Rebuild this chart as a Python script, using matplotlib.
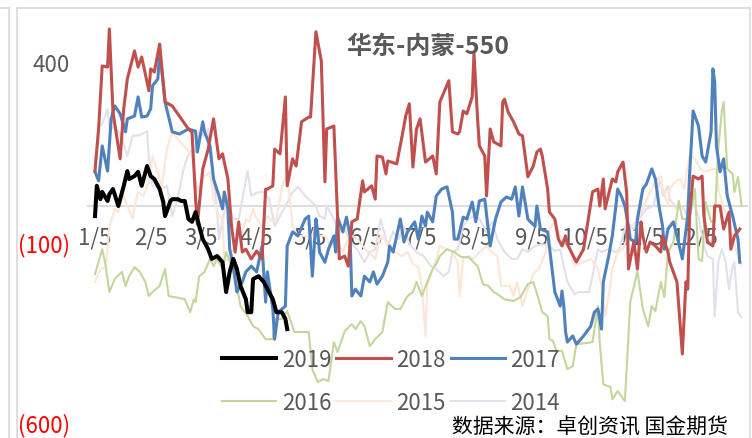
import matplotlib
matplotlib.use("Agg")
import matplotlib.pyplot as plt
from matplotlib.lines import Line2D

plt.rcParams['font.family'] = ['Noto Sans CJK SC', 'DejaVu Sans']

# day of year / spread value (yuan/t)
d2019 = [5, 6, 8, 9, 12, 13, 15, 18, 21, 23, 24, 27, 29, 31, 34, 36, 38, 41, 43, 44, 47, 48, 51, 53, 55,
         57, 59, 61, 63, 65, 68, 70, 73, 76, 78, 80, 82, 84, 86, 89, 90, 92, 93, 96, 99, 101, 104, 106,
         109, 111, 112]
v2019 = [-28, 56, 19, 39, 14, 33, 47, 0, 56, 97, 75, 83, 95, 56, 111, 83, 75, 47, 11, -28, 14, 19, 19, 14, 14,
         -36, -44, -17, -56, -92, -120, -147, -139, -156, -239, -183, -147, -175, -222, -259, -295, -295, -203,
         -195, -211, -231, -259, -295, -295, -314, -342]

d2018 = [5, 7, 9, 12, 13, 15, 19, 21, 23, 27, 29, 31, 35, 36, 38, 41, 44, 48, 57, 59, 61, 62, 65, 68, 71,
         74, 76, 79, 81, 83, 85, 87, 89, 92, 95, 98, 100, 101, 104, 105, 108, 111, 112, 115, 117, 120, 124,
         125, 128, 131, 133, 134, 138, 141, 144, 146, 148, 151, 154, 155, 159, 161, 162, 165, 167, 168, 173,
         176, 178, 180, 182, 184, 186, 189, 193, 195, 197, 202, 204, 207, 208, 210, 212, 215, 216, 218, 219,
         222, 223, 225, 227, 231, 232, 233, 235, 238, 241, 243, 246, 249, 251, 253, 254, 257, 258, 261, 263,
         265, 267, 268, 273, 277, 282, 285, 286, 288, 289, 293, 295, 296, 299, 301, 302, 305, 307, 309, 310,
         312, 314, 317, 320, 321, 324, 325, 329, 332, 334, 335, 336, 338, 341, 343, 344, 346, 349, 350, 353,
         355, 358, 359, 361, 364]
v2018 = [97, 214, 389, 386, 492, 261, 131, 270, 353, 431, 386, 414, 320, 381, 372, 450, 289, 278, 214, 205,
         19, -50, 103, 158, 242, 131, 145, 75, -56, -128, -44, -128, -120, -147, -125, -147, 47, 47, 56, 158,
         145, 303, 56, 131, 111, 234, 247, 247, 484, 403, 67, 214, 222, -147, -139, -167, -44, -36, 70, 39,
         56, 19, 139, 136, 89, 125, 117, 195, 250, 284, 108, 214, 242, 122, 139, 89, 289, 348, 206, 200, 206,
         264, 256, 303, 423, 242, 167, 139, 28, 214, 178, 167, 289, 297, 261, 234, 200, 195, 81, 111, 150,
         158, 139, 47, -17, -36, -92, -111, -83, -106, -156, -120, 39, 47, 0, 75, -8, 75, 67, 95, 122, 39,
         -175, -100, -175, -44, -83, -128, -100, -111, -128, -83, -128, -156, -211, -411, -211, -231, -28, 83,
         75, 83, -28, -100, -111, 0, 0, -64, -17, -120, -83, -64]

d2017 = [5, 7, 9, 12, 14, 16, 19, 22, 23, 27, 29, 31, 34, 36, 37, 40, 41, 44, 48, 52, 57, 61, 62, 65, 66,
         69, 71, 74, 76, 77, 79, 80, 82, 84, 87, 89, 92, 95, 98, 100, 101, 104, 105, 107, 111, 112, 115, 118,
         122, 124, 126, 128, 129, 130, 133, 135, 138, 139, 140, 143, 145, 147, 148, 150, 153, 155, 158, 160,
         162, 165, 168, 169, 171, 175, 177, 179, 183, 185, 187, 189, 190, 193, 195, 198, 201, 204, 205, 207,
         210, 212, 215, 217, 219, 222, 225, 228, 231, 234, 237, 239, 241, 243, 246, 247, 250, 251, 253, 257,
         259, 261, 264, 265, 266, 267, 268, 271, 273, 277, 281, 283, 285, 287, 288, 291, 293, 295, 296, 298,
         300, 302, 303, 306, 307, 310, 312, 315, 317, 319, 321, 322, 324, 327, 329, 332, 335, 336, 338, 341,
         343, 345, 348, 349, 350, 351, 353, 355, 357, 360, 363, 364]
v2017 = [95, 70, 167, 97, 242, 278, 256, 206, 242, 250, 303, 247, 250, 270, 334, 353, 431, 289, 206, 200,
         214, 208, 150, 234, 206, 167, 75, 28, -8, 39, -8, -120, -167, -239, -211, -183, -167, -183, -111,
         -267, -183, -286, -370, -295, -278, -111, -72, -83, -36, -28, -195, -36, -72, -128, -156, -120, -83,
         -128, -31, -72, -31, -83, -250, -231, -250, -195, -211, -183, -217, -195, -156, -111, -128, -36, -100,
         -72, -44, -92, -28, -56, -17, -44, 28, 47, 53, -17, -92, -92, -31, -36, 11, -44, 14, 19, -111, -36,
         11, 25, 19, 53, -28, 53, -36, -42, -56, 0, -64, -72, -156, -239, -278, -236, -278, -350, -378, -361,
         -384, -361, -334, -295, -286, -342, -211, -139, -83, 0, 47, 28, 0, -56, -92, -100, -36, 47, 61, 103,
         75, 0, -56, -120, -64, -44, -83, -147, -28, 83, 264, 222, 139, 122, 206, 381, 345, 167, 95, 131, 28,
         -28, -92, -156]

d2016 = [5, 9, 11, 13, 16, 20, 22, 24, 27, 30, 33, 35, 37, 41, 44, 46, 55, 58, 60, 61, 63, 66, 69, 71, 73,
         76, 78, 81, 84, 86, 90, 93, 96, 100, 104, 105, 109, 112, 116, 124, 126, 129, 132, 135, 138, 140,
         144, 148, 150, 153, 155, 158, 161, 165, 168, 172, 175, 179, 182, 184, 187, 190, 193, 195, 197, 201,
         205, 209, 213, 218, 221, 224, 227, 229, 233, 238, 242, 246, 249, 252, 254, 257, 258, 260, 262, 265,
         268, 271, 273, 278, 282, 285, 286, 288, 292, 293, 296, 300, 302, 303, 307, 310, 313, 315, 317, 320,
         322, 324, 327, 330, 332, 336, 339, 341, 343, 345, 348, 350, 352, 354, 355, 357, 360, 361, 363, 365]
v2016 = [-189, -120, -167, -239, -203, -183, -222, -195, -170, -183, -211, -250, -239, -222, -175, -250,
         -259, -295, -259, -267, -195, -183, -147, -167, -147, -175, -128, -167, -222, -278, -306, -334, -342,
         -370, -370, -314, -314, -292, -350, -350, -453, -489, -481, -486, -378, -406, -348, -328, -342, -320,
         -334, -389, -370, -350, -267, -286, -286, -250, -239, -211, -250, -211, -175, -161, -139, -120, -128,
         -142, -142, -167, -217, -222, -239, -245, -259, -264, -253, -217, -211, -259, -295, -306, -370, -375,
         -403, -403, -453, -445, -384, -381, -378, -278, -378, -495, -503, -537, -514, -542, -361, -267, -181,
         -286, -334, -278, -292, -211, -253, -128, -100, 14, -36, -36, 47, -147, -153, 11, -44, -42, 158, 264,
         289, 103, 89, 39, 81, 0]

d2015 = [5, 8, 11, 13, 16, 18, 20, 23, 26, 27, 29, 32, 35, 37, 40, 42, 45, 48, 51, 56, 59, 62, 63, 66, 69,
         71, 74, 76, 77, 80, 83, 87, 89, 91, 93, 95, 98, 101, 104, 106, 109, 111, 113, 115, 118, 122, 125,
         128, 130, 133, 136, 140, 143, 145, 148, 151, 154, 157, 161, 164, 166, 169, 172, 176, 179, 182, 185,
         187, 189, 190, 193, 195, 197, 201, 204, 207, 208, 210, 213, 216, 219, 223, 226, 229, 231, 233, 236,
         238, 240, 243, 246, 249, 252, 256, 258, 261, 264, 267, 269, 272, 277, 281, 285, 287, 289, 291, 293,
         296, 299, 303, 307, 310, 314, 317, 320, 321, 324, 325, 328, 331, 333, 335, 336, 339, 342, 345, 349,
         351, 352, 355, 358, 360, 363, 365]
v2015 = [-211, -175, -170, -56, -8, -17, 39, 0, -36, 0, 39, 28, 67, 139, 95, 47, 158, 206, 186, 158, 139,
         39, 56, 83, 95, 19, -28, -36, -147, -153, -100, -72, -36, -44, -8, -36, -56, -28, -44, -36, 47, 83,
         47, -56, -83, -83, -92, -56, -83, -83, -111, -100, -128, -100, -83, -92, -111, -128, -147, -83, -92,
         -111, -128, -139, -128, -161, -170, -222, -361, -222, -175, -147, -111, -120, -128, -156, -250, -147,
         -139, -147, -128, -111, -128, -139, -222, -222, -222, -250, -211, -278, -231, -189, -175, -128, -64,
         -44, -83, -111, -120, -167, -156, -147, -175, -222, -306, -250, -175, -128, -120, -64, -36, -8, 39,
         67, 83, 47, 0, 47, 67, 75, 47, 111, 139, 131, 103, 95, 103, 103, 47, -8, -36, -92, -139, -167]

d2014 = [5, 7, 9, 12, 13, 16, 18, 20, 23, 26, 30, 34, 35, 37, 40, 42, 45, 48, 51, 54, 56, 59, 61, 63, 66,
         68, 70, 71, 73, 74, 76, 79, 82, 85, 87, 90, 92, 96, 99, 102, 105, 108, 111, 115, 118, 122, 128, 130,
         133, 134, 138, 141, 144, 147, 151, 155, 158, 161, 164, 166, 168, 171, 174, 177, 180, 184, 188, 192,
         195, 199, 202, 204, 207, 210, 213, 216, 219, 223, 226, 229, 233, 237, 240, 243, 246, 250, 254, 258,
         261, 264, 266, 268, 272, 275, 280, 282, 285, 287, 291, 295, 297, 301, 305, 309, 312, 316, 318, 320,
         321, 324, 325, 329, 332, 335, 336, 338, 341, 344, 346, 349, 350, 352, 354, 356, 358, 360, 361, 363,
         365]
v2014 = [122, 222, 228, 270, 214, 220, 206, 186, 139, 195, 197, 208, 131, 56, 53, 47, 56, -28, 19, 95, 131,
         158, 150, 206, 195, 214, 131, 75, -17, -92, -36, 19, -36, -36, 19, 97, 28, 39, 39, 19, -56, -28, 0,
         39, 53, 28, 0, -28, -36, 0, -36, -72, -64, -100, -120, -156, -128, -120, -36, -72, -111, -72, -92,
         -56, -106, -128, -139, -167, -175, -195, -183, -128, -120, -56, -36, -28, -36, -72, -44, -92, -128,
         -147, -147, -120, -128, -111, -106, -111, -125, -120, -167, -211, -245, -239, -239, -195, -120, -128,
         -120, -128, -120, -44, -64, -28, -8, 0, 47, 75, 28, 56, 19, -8, 0, -28, 11, 11, -28, -111, -139,
         -147, -306, -156, -120, -153, -231, -167, -156, -295, -309]

tick_days = [5, 36, 64, 95, 125, 156, 186, 217, 248, 278, 309, 339]
tick_labels = ["1/5", "2/5", "3/5", "4/5", "5/5", "6/5", "7/5", "8/5", "9/5", "10/5", "11/5", "12/5"]

series = [
    ("2014", d2014, v2014, "#E4DFEC", 1.5),
    ("2015", d2015, v2015, "#FDE6D6", 1.5),
    ("2016", d2016, v2016, "#C3D69B", 1.5),
    ("2017", d2017, v2017, "#4F81BD", 2.2),
    ("2018", d2018, v2018, "#C0504D", 2.2),
    ("2019", d2019, v2019, "#000000", 2.9),
]

W, H = 752, 439
fig = plt.figure(figsize=(W / 100, H / 100), dpi=100)
ax = fig.add_axes([88 / W, 1 - 423 / H, (747 - 88) / W, 396 / H])

lines = {}
for z, (name, d, v, col, lw) in enumerate(series):
    ln, = ax.plot(d, v, color=col, lw=lw, zorder=3 + z, solid_joinstyle='round')
    lines[name] = ln

ax.set_xlim(1.1, 368.0)
ax.set_ylim(-600, 500)

for s in ['top', 'right', 'left']:
    ax.spines[s].set_visible(False)
ax.spines['bottom'].set_position(('data', 0))
ax.spines['bottom'].set_color('#D9D9D9')
ax.spines['bottom'].set_linewidth(1.3)

ax.set_xticks(tick_days)
ax.set_xticklabels(tick_labels)
ax.tick_params(axis='x', length=0, pad=14, labelsize=16, labelcolor='#595959')

ax.set_yticks([-600, -100, 400])
ax.set_yticklabels(["(600)", "(100)", "400"])
ax.tick_params(axis='y', length=0, pad=13, labelsize=16)
for lab, c in zip(ax.get_yticklabels(), ['#FF0000', '#FF0000', '#595959']):
    lab.set_color(c)

fig.text(428 / W, 1 - 47 / H, "华东-内蒙-550", ha='center', va='center',
         fontsize=18, fontweight='bold', color='#595959')
fig.text(452 / W, 1 - 417 / H, "数据来源：卓创资讯 国金期货", ha='left', va='top',
         fontsize=15, color='black')

# legend: rows 2019/2018/2017 then 2016/2015/2014
order = ["2019", "2016", "2018", "2015", "2017", "2014"]
fig.legend([lines[k] for k in order], order, ncol=3, loc='center',
           bbox_to_anchor=(391 / W, 1 - 382 / H), frameon=False, fontsize=16,
           handlelength=2.45, handletextpad=0.25, columnspacing=0.22,
           labelspacing=0.92, borderpad=0, labelcolor='#595959')

# chart-area borders (this chart and the cut-off neighbour on the left)
border = dict(transform=fig.transFigure, color='#D9D9D9', lw=1.2)
fig.add_artist(Line2D([17 / W, 17 / W], [0, 1 - 9 / H], **border))
fig.add_artist(Line2D([17 / W, 750 / W], [1 - 9 / H, 1 - 9 / H], **border))
fig.add_artist(Line2D([750 / W, 750 / W], [0, 1 - 9 / H], **border))
fig.add_artist(Line2D([9 / W, 9 / W], [0, 1 - 9 / H], **border))
fig.add_artist(Line2D([0, 9 / W], [1 - 9 / H, 1 - 9 / H], **border))

fig.savefig("out.png", dpi=100)
